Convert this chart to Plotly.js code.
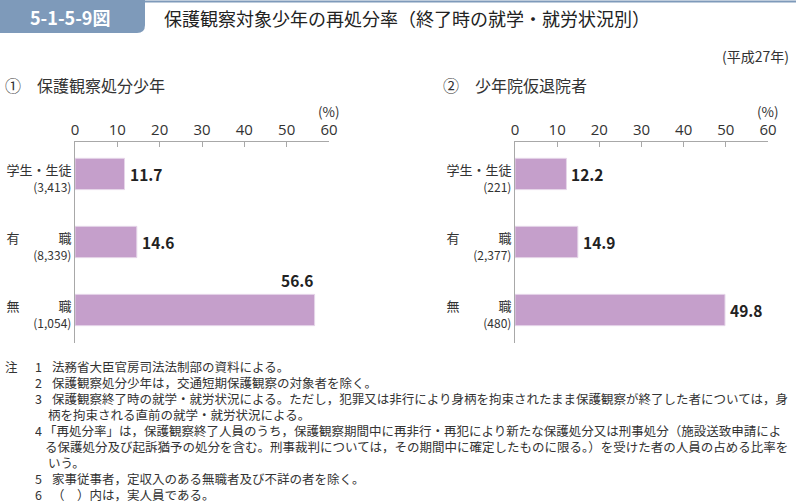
<!DOCTYPE html>
<html>
<head>
<meta charset="utf-8">
<script src="https://cdn.plot.ly/plotly-3.0.1.min.js"></script>
<style>
  body { margin: 0; background: #fff; }
  #graph { width: 796px; height: 504px; }
</style>
</head>
<body>
<div id="graph"></div>
<script>
// 区分と人員
const categorias = ['学生・生徒', '有　　　職', '無　　　職'];
const personasA = ['3,413', '8,339', '1,054'];
const personasB = ['221', '2,377', '480'];
// 再処分率 (%)
const tasaA = [11.7, 14.6, 56.6];
const tasaB = [12.2, 14.9, 49.8];
const ticksX = [0, 10, 20, 30, 40, 50, 60];

const notas = [
  ['注', '1', '法務省大臣官房司法法制部の資料による。'],
  ['', '2', '保護観察処分少年は，交通短期保護観察の対象者を除く。'],
  ['', '3', '保護観察終了時の就学・就労状況による。ただし，犯罪又は非行により身柄を拘束されたまま保護観察が終了した者については，身'],
  ['', '', '柄を拘束される直前の就学・就労状況による。'],
  ['', '4', '「再処分率」は，保護観察終了人員のうち，保護観察期間中に再非行・再犯により新たな保護処分又は刑事処分（施設送致申請によ'],
  ['', '', 'る保護処分及び起訴猶予の処分を含む。刑事裁判については，その期間中に確定したものに限る。）を受けた者の人員の占める比率を'],
  ['', '', 'いう。'],
  ['', '5', '家事従事者，定収入のある無職者及び不詳の者を除く。'],
  ['', '6', '（　）内は，実人員である。']
];

const W = 796, H = 504;
const px = v => v / W;          // pixel -> paper x
const py = v => 1 - v / H;      // pixel -> paper y
const fuente = '"Noto Sans CJK JP", "Noto Sans", sans-serif';
const colorBarra = '#c59fcb';
const colorEje = '#a8a8a8';

const posY = categorias.map((c, i) => i);

function etiquetas(personas) {
  return categorias.map((c, i) =>
    c + '<br><span style="font-size:12px">(' + personas[i] + ')</span>');
}

let data = [
  {
    type: 'bar', orientation: 'h',
    x: tasaA, y: posY, xaxis: 'x', yaxis: 'y',
    width: 0.46,
    marker: { color: colorBarra, line: { color: '#e6d6e9', width: 1 } },
    hoverinfo: 'skip'
  },
  {
    type: 'bar', orientation: 'h',
    x: tasaB, y: posY, xaxis: 'x2', yaxis: 'y2',
    width: 0.46,
    marker: { color: colorBarra, line: { color: '#e6d6e9', width: 1 } },
    hoverinfo: 'skip'
  }
];

const ejeX = {
  range: [0, 60], side: 'top', tickvals: ticksX,
  showline: true, linecolor: colorEje, linewidth: 1,
  ticks: 'inside', ticklen: 5, tickcolor: colorEje,
  showgrid: false, zeroline: false, fixedrange: true,
  tickfont: { size: 15, color: '#333', family: '"Open Sans", sans-serif' }
};
const ejeY = {
  range: [2.485, -0.47], tickvals: posY,
  showline: true, linecolor: colorEje, linewidth: 1,
  ticks: '', showgrid: false, zeroline: false, fixedrange: true,
  ticklabelshift: -5,
  tickfont: { size: 13, color: '#333', family: fuente },
  domain: [py(343), py(142)]
};

let anotaciones = [];

// etiquetas de valor
[[tasaA, 'x', 'y'], [tasaB, 'x2', 'y2']].forEach(([vals, xr, yr]) => {
  vals.forEach((v, i) => {
    const arriba = v > 55;
    anotaciones.push({
      xref: xr, yref: yr, x: v, y: arriba ? i - 0.23 : i,
      text: v.toFixed(1), showarrow: false,
      xanchor: arriba ? 'right' : 'left',
      yanchor: arriba ? 'bottom' : 'middle',
      xshift: arriba ? 0 : 3, yshift: arriba ? 1 : 0,
      font: { size: 15.5, color: '#222', family: fuente, weight: 'bold' }
    });
  });
  anotaciones.push({
    xref: xr, yref: 'paper', x: 60, y: py(111), text: '(%)',
    showarrow: false, xanchor: 'center', yanchor: 'middle',
    font: { size: 13.5, color: '#333', family: fuente }
  });
});

// titulos
anotaciones.push(
  { xref: 'paper', yref: 'paper', x: px(70), y: py(17), text: '5-1-5-9図',
    showarrow: false, xanchor: 'center', yanchor: 'middle',
    font: { size: 18, color: '#fff', family: fuente, weight: 'bold' } },
  { xref: 'paper', yref: 'paper', x: px(162), y: py(18),
    text: '保護観察対象少年の再処分率（終了時の就学・就労状況別）',
    showarrow: false, xanchor: 'left', yanchor: 'middle',
    font: { size: 18, color: '#222', family: fuente } },
  { xref: 'paper', yref: 'paper', x: px(791), y: py(56), text: '(平成27年)',
    showarrow: false, xanchor: 'right', yanchor: 'middle',
    font: { size: 14, color: '#333', family: fuente } },
  { xref: 'paper', yref: 'paper', x: px(3), y: py(85), text: '①　保護観察処分少年',
    showarrow: false, xanchor: 'left', yanchor: 'middle',
    font: { size: 16, color: '#333', family: fuente } },
  { xref: 'paper', yref: 'paper', x: px(441), y: py(85), text: '②　少年院仮退院者',
    showarrow: false, xanchor: 'left', yanchor: 'middle',
    font: { size: 16, color: '#333', family: fuente } }
);

// notas
notas.forEach((n, i) => {
  const y = py(366 + i * 16.1);
  const f = { size: 12.5, color: '#333', family: fuente };
  const base = { xref: 'paper', yref: 'paper', y: y, height: 15,
    showarrow: false, xanchor: 'left', yanchor: 'middle', font: f };
  if (n[0]) anotaciones.push(Object.assign({}, base, { x: px(3), text: n[0] }));
  if (n[1]) anotaciones.push(Object.assign({}, base, { x: px(33), text: n[1] }));
  let x0 = n[1] ? 50 : 46;
  if (n[2].startsWith('「')) x0 = 42;
  if (!n[1] && n[2].startsWith('る')) x0 = 43;
  anotaciones.push(Object.assign({}, base, { x: px(x0), text: n[2] }));
});

// cabecera
const x1 = px(145), y1 = py(33), r = 8;
const forma = [
  { type: 'path', xref: 'paper', yref: 'paper',
    path: 'M 0 1 L ' + x1 + ' 1 L ' + x1 + ' ' + py(33 - r) +
      ' Q ' + x1 + ' ' + y1 + ' ' + px(145 - r) + ' ' + y1 +
      ' L 0 ' + y1 + ' Z',
    fillcolor: '#7e9aba', line: { width: 0 } },
  { type: 'line', xref: 'paper', yref: 'paper', x0: 0, x1: 1, y0: py(1.5), y1: py(1.5),
    line: { color: '#7e9aba', width: 2 } }
];

let layout = {
  width: W, height: H,
  margin: { l: 0, r: 0, t: 0, b: 0 },
  paper_bgcolor: '#fff', plot_bgcolor: '#fff',
  showlegend: false, bargap: 0,
  font: { family: fuente, color: '#333' },
  xaxis: Object.assign({}, ejeX, { domain: [px(75), px(329)], anchor: 'y' }),
  yaxis: Object.assign({}, ejeY, { anchor: 'x', ticktext: etiquetas(personasA) }),
  xaxis2: Object.assign({}, ejeX, { domain: [px(515), px(768)], anchor: 'y2' }),
  yaxis2: Object.assign({}, ejeY, { anchor: 'x2', ticktext: etiquetas(personasB) }),
  annotations: anotaciones,
  shapes: forma
};

Plotly.newPlot('graph', data, layout, { displaylogo: false, displayModeBar: false, staticPlot: true });
</script>
</body>
</html>
